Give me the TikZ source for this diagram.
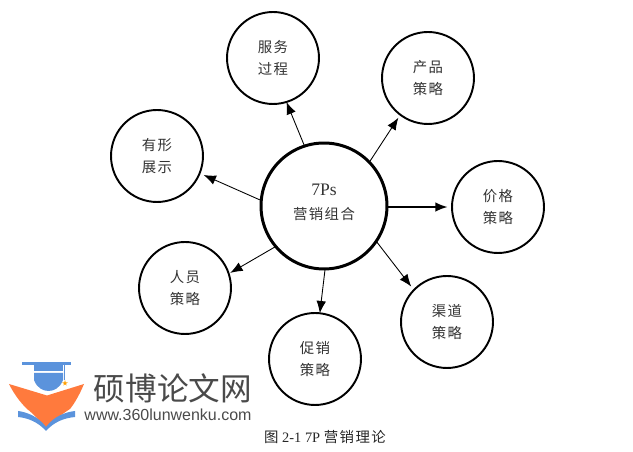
\documentclass[tikz,border=0pt]{standalone}
\usepackage{fontspec}
\setmainfont{Liberation Serif}
\newfontfamily\cjk{Noto Sans CJK SC}[LetterSpace=10]
\newfontfamily\logofont{Noto Sans CJK SC}
\newfontfamily\urlfont{Liberation Sans}
\usetikzlibrary{arrows.meta}
\definecolor{capblue}{HTML}{5B93DC}
\definecolor{bookorange}{HTML}{FF7A3D}
\definecolor{logogray}{HTML}{4A4A4A}
\begin{document}
\begin{tikzpicture}[x=0.02cm,y=-0.02cm]
		\tikzset{strategy/.style = {shape=circle,draw,line width=1.1pt,minimum size=1.84cm,inner sep=0pt,outer sep=0pt,align=center,text=black!80,font=\fontsize{8.2}{13}\selectfont\cjk}}
		\tikzset{core/.style = {shape=circle,draw,line width=1.7pt,minimum size=2.52cm,inner sep=0pt,outer sep=0pt,align=center,text=black!80,text depth=5pt,font=\fontsize{8.2}{13.6}\selectfont}}
		\tikzset{edge/.style = {-{Latex[length=7pt,width=5.5pt]},line width=0.5pt}}
		\useasboundingbox (0,0) rectangle (633,452);
		% circles
		\node[core] (mix) at (324,206) {\fontsize{10}{13.6}\selectfont 7Ps\\{\cjk 营销组合}};
		\node[strategy] (service) at (273,58) {服务\\过程};
		\node[strategy] (product) at (428,78) {产品\\策略};
		\node[strategy] (price) at (498,207) {价格\\策略};
		\node[strategy] (channel) at (447,322) {渠道\\策略};
		\node[strategy] (promotion) at (315,359) {促销\\策略};
		\node[strategy] (people) at (185,288) {人员\\策略};
		\node[strategy] (evidence) at (157,156) {有形\\展示};
		% arrows
		\draw[edge] (mix.108) -- (service.-73);
		\draw[edge,shorten >=2pt] (mix.44) -- (product.-127);
		\draw[edge,line width=1pt,shorten >=2.5pt] (mix.-1) -- (price.180);
		\draw[edge,shorten >=2.5pt] (mix.-34) -- (channel.136);
		\draw[edge,shorten <=0.6pt] (mix.-89) -- (promotion.84);
		\draw[edge,shorten >=1pt] (mix.220) -- (people.18);
		\draw[edge,shorten >=2.5pt] (mix.175) -- (evidence.-22);
		% logo
		\fill[capblue] (22,362) rectangle (71,365);
		\fill[capblue] (34,365) rectangle (63,371.5);
		\fill[capblue] (34,372.8) -- (63,372.8) -- (63,380) .. controls (60,388) and (54,391) .. (48.5,391) .. controls (43,391) and (37,388) .. (34,380) -- cycle;
		\draw[capblue,line width=0.5pt] (64.5,365) -- (64.5,380);
		\fill[orange!75!yellow] (65,380) -- (66.6,385.5) -- (62,382.3) -- (68,382.3) -- (63.4,385.5) -- cycle;
		\fill[bookorange] (9,384) -- (47,395.5) -- (84,384) .. controls (79,396) and (74,404) .. (70,409) .. controls (62,414) and (52,422) .. (46,428) .. controls (40,422) and (34,414) .. (27,409) .. controls (20,402) and (14,394) .. (9,384) -- cycle;
		\fill[capblue] (18,411) .. controls (26,412) and (38,416) .. (46,427) .. controls (54,416) and (66,412) .. (75,411) -- (75,417) .. controls (64,418) and (54,422) .. (46,431) .. controls (38,422) and (28,418) .. (18,417) -- cycle;
		\node[text=logogray,font=\fontsize{18}{20}\selectfont\logofont] (brand) at (173,388) {硕博论文网};
		\node[text=logogray,font=\fontsize{9.1}{10}\selectfont\urlfont] (site) at (168,415) {www.360lunwenku.com};
		% caption
		\node[text=black!85,font=\fontsize{8.2}{9}\selectfont] (caption) at (325,437) {{\cjk 图} 2-1 7P {\cjk 营销理论}};
\end{tikzpicture}
\end{document}
